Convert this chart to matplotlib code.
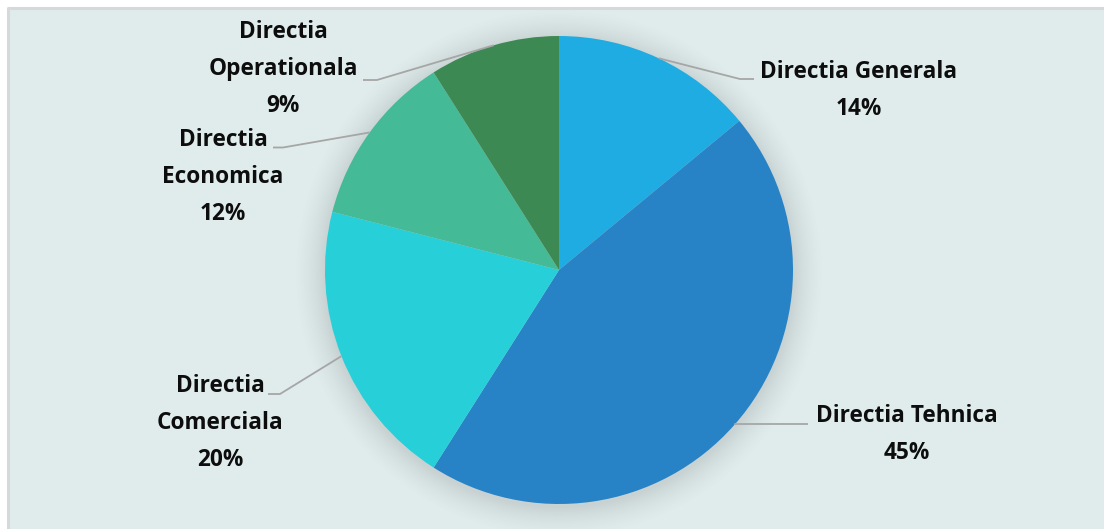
import numpy as np
import matplotlib.pyplot as plt
from matplotlib.patches import Rectangle

# data
names = ['Directia Generala', 'Directia Tehnica', 'Directia Comerciala',
         'Directia Economica', 'Directia Operationala']
shares = [14, 45, 20, 12, 9]
colors = ['#1eace3', '#2783c6', '#27cfd9', '#45ba96', '#3d8953']

# label text split into lines as in the chart
label_lines = [['Directia Generala'], ['Directia Tehnica'],
               ['Directia', 'Comerciala'], ['Directia', 'Economica'],
               ['Directia', 'Operationala']]

W, H = 1104, 529
fig = plt.figure(figsize=(W / 100, H / 100), dpi=100)
fig.patch.set_facecolor('white')
ax = fig.add_axes([0, 0, 1, 1])

def Y(y):
    # pixel row -> data y
    return H - y

cx, cy, r = 559, Y(270), 234

# panel background, grey border only on left and top
ax.add_patch(Rectangle((8, -10), W + 10, Y(8) + 10, facecolor='#e0ecec',
                       edgecolor='none', zorder=0))
ax.plot([8, 8, W + 5], [-5, Y(8), Y(8)], color='#d6d9d9', lw=2.2, zorder=0.5)

# soft shadow around the pie
xx, yy = np.meshgrid(np.arange(W) + 0.5, np.arange(H) + 0.5)
d = np.hypot(xx - cx, (H - yy) - (cy - 3))
t = np.clip(1 - (d - r) / 32, 0, 1)
alpha = 0.15 * t ** 1.5
shadow = np.zeros((H, W, 4))
shadow[..., :3] = 0.25
shadow[..., 3] = alpha
ax.imshow(shadow, extent=(0, W, 0, H), origin='upper', zorder=1,
          interpolation='bilinear')

wedges, _ = ax.pie(shares, colors=colors, startangle=90, counterclock=False,
                   center=(cx, cy), radius=r,
                   wedgeprops=dict(linewidth=0))
for w in wedges:
    w.set_zorder(2)

# leader lines: elbow and end (pixel coords), text block centre x and first line y
leaders = [
    ((740, 79), (754, 79), 859, 72),
    ((735, 424), (808, 424), 907, 416),
    ((280, 394), (268, 394), 220, 386),
    ((283, 147.5), (273, 147.5), 223, 140),
    ((377, 80), (363, 80), 283, 32),
]

font = 'Open Sans'
for w, lines, pct, (elbow, end, tx, ty) in zip(wedges, label_lines, shares, leaders):
    ang = np.deg2rad((w.theta1 + w.theta2) / 2)
    sx, sy = cx + r * np.cos(ang), cy + r * np.sin(ang)
    ax.plot([sx, elbow[0], end[0]], [sy, Y(elbow[1]), Y(end[1])],
            color='#a6a6a6', lw=1.3, zorder=3, solid_capstyle='butt')
    for i, s in enumerate(lines + [f'{pct}%']):
        ax.text(tx, Y(ty + 37 * i), s, ha='center', va='center',
                fontsize=16.3, fontweight='bold', family=font,
                color='#0d0d0d', zorder=4)

ax.set_xlim(0, W)
ax.set_ylim(0, H)
ax.set_aspect('auto')
ax.axis('off')

fig.savefig('out.png', dpi=100)
